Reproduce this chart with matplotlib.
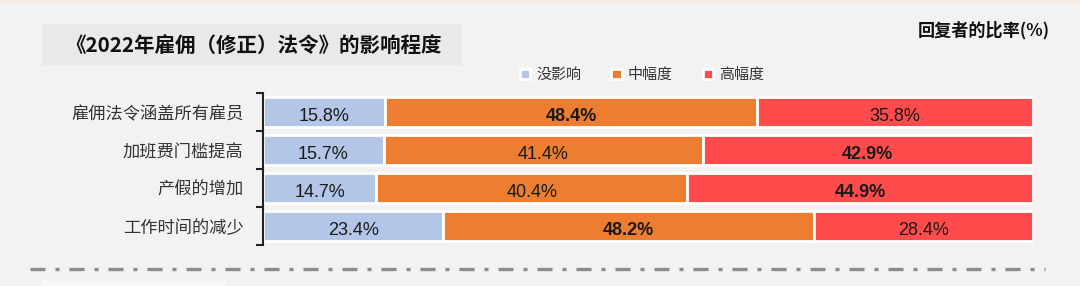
import matplotlib.pyplot as plt
from matplotlib.patches import Rectangle
from matplotlib.lines import Line2D
import numpy as np

plt.rcParams['font.family'] = ['Noto Sans CJK SC', 'DejaVu Sans']

categorias = ["雇佣法令涵盖所有雇员", "加班费门槛提高", "产假的增加", "工作时间的减少"]
series = ["没影响", "中幅度", "高幅度"]
sin_efecto = [15.8, 15.7, 14.7, 23.4]
medio = [48.4, 41.4, 40.4, 48.2]
alto = [35.8, 42.9, 44.9, 28.4]
colores = ["#b4c6e7", "#ed7d31", "#ff4b4b"]

bg = "#f2f2f2"
fig = plt.figure(figsize=(10.8, 2.86), dpi=100, facecolor=bg)

# banda superior y caja del titulo
fig.patches.append(Rectangle((0, 1 - 3 / 286), 1, 3 / 286, transform=fig.transFigure,
                             facecolor="#f6eee4", edgecolor="none"))
fig.patches.append(Rectangle((42 / 1080, 1 - 65 / 286), 420 / 1080, 41 / 286,
                             transform=fig.transFigure, facecolor="#e7e9eb", edgecolor="none"))
fig.patches.append(Rectangle((42 / 1080, 0), 183 / 1080, 5 / 286,
                             transform=fig.transFigure, facecolor="#f8f8f8", edgecolor="none"))
fig.text(254 / 1080, 1 - 46 / 286, "《2022年雇佣（修正）法令》的影响程度", ha="center", va="center",
         fontsize=14.8, fontweight="bold", color="#111111")
fig.text(1050 / 1080, 1 - 30 / 286, "回复者的比率(%)", ha="right", va="center",
         fontsize=12.3, fontweight="bold", color="#111111")

ax = fig.add_axes([263 / 1080, 1 - 245 / 286, 770 / 1080, 152 / 286])
ax.set_facecolor(bg)

y = np.arange(len(categorias))
izq = np.zeros(len(categorias))
barras = []
for nombre, vals, col in zip(series, [sin_efecto, medio, alto], colores):
    b = ax.barh(y, vals, left=izq, height=0.79, color=col, edgecolor="white",
                linewidth=2, label=nombre)
    barras.append(b)
    for i, v in enumerate(vals):
        fila = [sin_efecto[i], medio[i], alto[i]]
        peso = "bold" if v == max(fila) else "normal"
        ax.text(izq[i] + v / 2, y[i] + 0.06, f"{v}%", ha="center", va="center_baseline",
                fontsize=13, fontweight=peso, color="#1a1a1a", family="Liberation Sans")
    izq = izq + np.array(vals)

ax.set_xlim(0, 100)
ax.set_ylim(3.5, -0.5)
ax.set_yticks(y)
ax.set_yticklabels(categorias, fontsize=12.4, color="#333333")
ax.tick_params(axis="y", which="major", length=0, pad=14)
ax.set_yticks(np.arange(-0.5, 4, 1), minor=True)
ax.tick_params(axis="y", which="minor", length=5, width=1.5, color="#222222")
ax.set_xticks([])
for s in ["top", "right", "bottom"]:
    ax.spines[s].set_visible(False)
ax.spines["left"].set_linewidth(1.5)
ax.spines["left"].set_color("#222222")

ax.legend(handles=barras, loc="center", bbox_to_anchor=(642 / 1080, 1 - 75 / 286),
          bbox_transform=fig.transFigure, ncol=3, frameon=False, fontsize=10.8,
          handlelength=0.7, handleheight=0.7, handletextpad=0.4, columnspacing=2.0,
          labelcolor="#333333")

# linea punteada inferior
linea = Line2D([30 / 1080, 1045 / 1080], [1 - 269 / 286, 1 - 269 / 286], transform=fig.transFigure,
               color="#8c8c8c", linewidth=2.4)
linea.set_dashes([4.5, 3, 1.2, 3])
fig.lines.append(linea)

plt.savefig("out.png", dpi=100, facecolor=bg)
